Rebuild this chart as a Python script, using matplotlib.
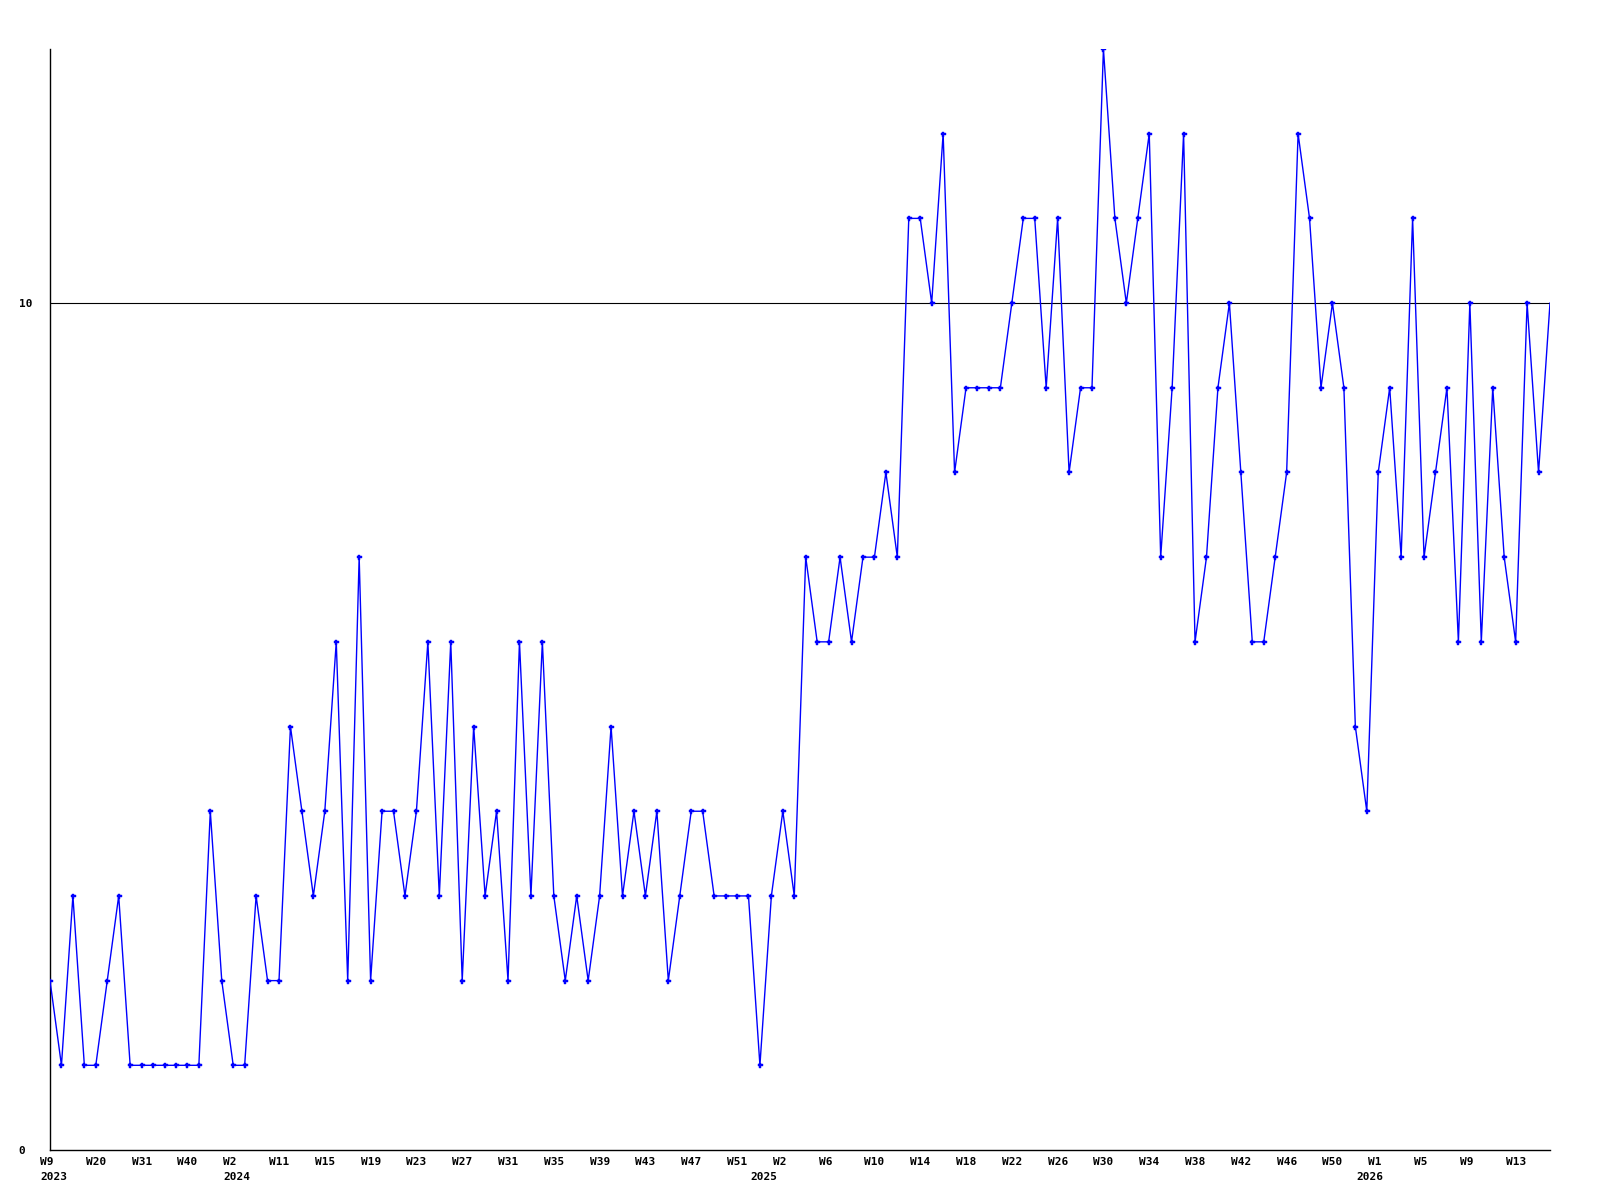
import matplotlib
matplotlib.use("Agg")
import matplotlib.pyplot as plt
import matplotlib.transforms as mtransforms

# weekly values (one per sample)
values = [2, 1, 3, 1, 1, 2, 3, 1, 1, 1, 1, 1, 1, 1, 4, 2, 1, 1, 3, 2,
          2, 5, 4, 3, 4, 6, 2, 7, 2, 4, 4, 3, 4, 6, 3, 6, 2, 5, 3, 4,
          2, 6, 3, 6, 3, 2, 3, 2, 3, 5, 3, 4, 3, 4, 2, 3, 4, 4, 3, 3,
          3, 3, 1, 3, 4, 3, 7, 6, 6, 7, 6, 7, 7, 8, 7, 11, 11, 10, 12, 8,
          9, 9, 9, 9, 10, 11, 11, 9, 11, 8, 9, 9, 13, 11, 10, 11, 12, 7, 9, 12,
          6, 7, 9, 10, 8, 6, 6, 7, 8, 12, 11, 9, 10, 9, 5, 4, 8, 9, 7, 11,
          7, 8, 9, 6, 10, 6, 9, 7, 6, 10, 8, 10]

week_labels = ["W9", "W20", "W31", "W40", "W2", "W11", "W15", "W19", "W23",
               "W27", "W31", "W35", "W39", "W43", "W47", "W51", "W2", "W6",
               "W10", "W14", "W18", "W22", "W26", "W30", "W34", "W38", "W42",
               "W46", "W50", "W1", "W5", "W9", "W13"]
week_label_step = 4
year_labels = ["2023", "2024", "2025", "2026"]
year_label_pos = [0, 16, 62, 115]
ref_level = 10
y_ticks = [0, 10]

font = dict(family="DejaVu Sans Mono", weight="bold", size=8)

fig = plt.figure(figsize=(16, 12), dpi=100)
ax = fig.add_axes([50 / 1600, 1 - 1150 / 1200, 1500 / 1600, (1150 - 49) / 1200])

x = list(range(len(values)))
ax.plot(x, values, color="#0000ff", lw=1.0, marker="P", markersize=3.6,
        markeredgewidth=0.3, markeredgecolor="#0000ff",
        markevery=list(range(len(values) - 1)), zorder=3)
ax.axhline(ref_level, color="black", lw=0.8, zorder=2)

ax.set_xlim(0, len(values) - 1)
ax.set_ylim(0, max(values))

for s in ["top", "right"]:
    ax.spines[s].set_visible(False)
for s in ["left", "bottom"]:
    ax.spines[s].set_linewidth(1.0)

# y ticks
ax.set_yticks(y_ticks)
ax.set_yticklabels([str(v) for v in y_ticks], fontdict=font)
ax.tick_params(axis="y", length=0, pad=22.5)
for lab in ax.get_yticklabels():
    lab.set_horizontalalignment("left")

# x ticks (week labels + year labels)
ax.xaxis.remove_overlapping_locs = False
xt = [i * week_label_step for i in range(len(week_labels))]
ax.set_xticks(xt)
ax.set_xticklabels(week_labels, fontdict=font)
ax.set_xticks(year_label_pos, minor=True)
ax.set_xticklabels(year_labels, minor=True, fontdict=font)
ax.tick_params(axis="x", which="major", length=0, pad=5)
ax.tick_params(axis="x", which="minor", length=0, pad=16)
off = mtransforms.ScaledTranslation(-10 / 100, 0, fig.dpi_scale_trans)
for lab in ax.get_xticklabels() + ax.get_xticklabels(minor=True):
    lab.set_horizontalalignment("left")
    lab.set_transform(lab.get_transform() + off)

fig.savefig("out.png", dpi=100)
